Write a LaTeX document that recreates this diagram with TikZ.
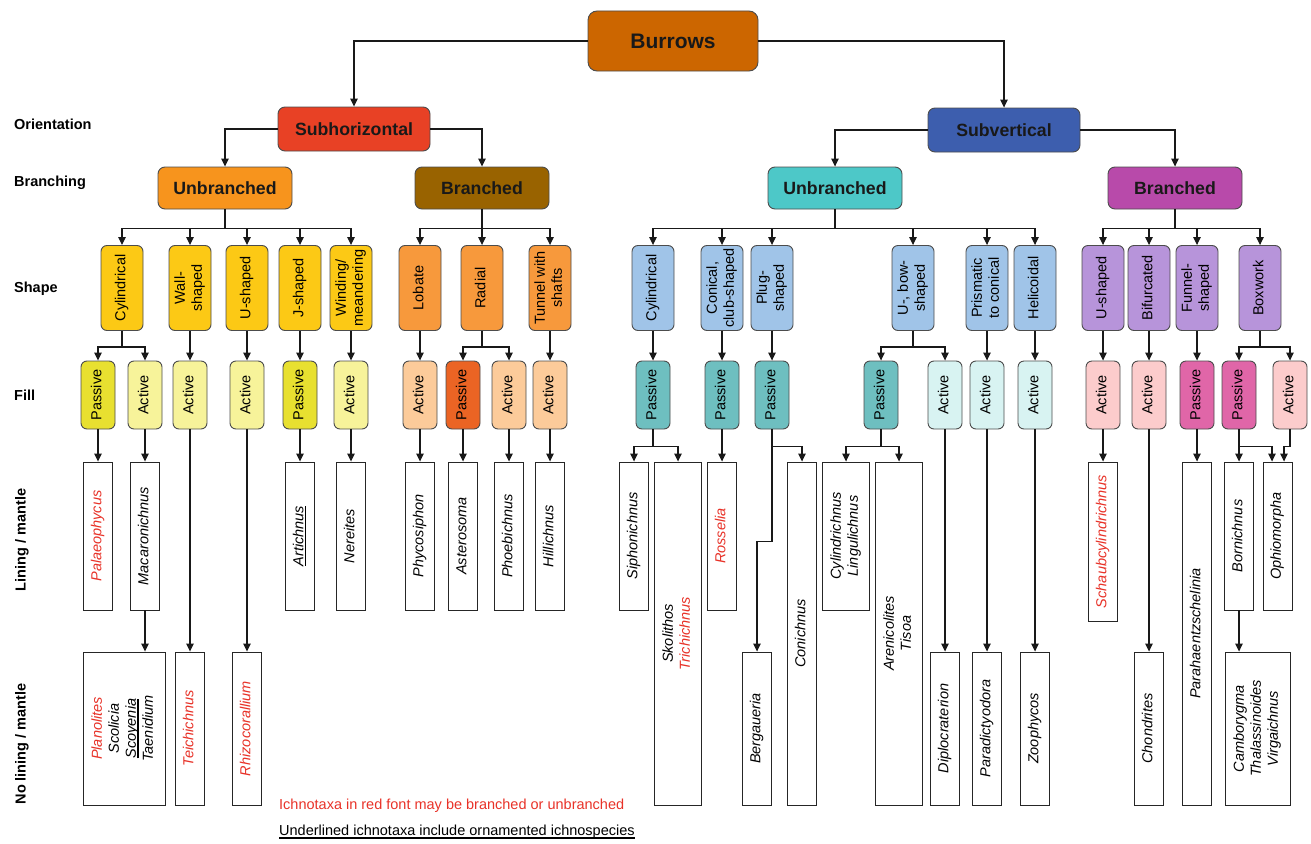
\documentclass[tikz,border=0pt]{standalone}
\usepackage{fontspec}
\setmainfont{Liberation Sans}
\usepackage{graphicx}
\usepackage{tikz}
\usetikzlibrary{arrows.meta}
\definecolor{burrowbr}{RGB}{204,102,0}
\definecolor{horizred}{RGB}{232,65,37}
\definecolor{vertblue}{RGB}{61,94,174}
\definecolor{hubr}{RGB}{247,148,29}
\definecolor{hbr}{RGB}{153,99,0}
\definecolor{vubr}{RGB}{77,200,200}
\definecolor{vbr}{RGB}{184,74,170}
\definecolor{hushape}{RGB}{252,201,21}
\definecolor{hbshape}{RGB}{247,153,60}
\definecolor{vushape}{RGB}{160,196,232}
\definecolor{vbshape}{RGB}{183,148,218}
\definecolor{hupas}{RGB}{232,224,48}
\definecolor{huact}{RGB}{247,243,154}
\definecolor{hbpas}{RGB}{235,100,36}
\definecolor{hbact}{RGB}{252,203,154}
\definecolor{vupas}{RGB}{110,191,192}
\definecolor{vuact}{RGB}{216,243,242}
\definecolor{vbpas}{RGB}{224,102,168}
\definecolor{vbact}{RGB}{252,204,204}
\definecolor{taxred}{RGB}{232,50,40}
\newcommand{\smallfnt}{\fontsize{14.5}{17}\selectfont}
\newcommand{\vtext}[1]{\rotatebox{90}{\begin{tabular}{@{}c@{}}#1\end{tabular}}}
\newcommand{\ulx}[1]{\setbox0\hbox{#1}\rlap{\rule[-2.8pt]{\wd0}{1.5pt}}\box0}

\begin{document}
\begin{tikzpicture}[x=1pt, y=-1pt,
  arr/.style={-{Triangle[length=8pt,width=7.5pt]}, line width=1.1pt, black!90},
  topbox/.style={draw=black!70, line width=0.9pt, rounded corners=9pt, minimum width=170pt,
                 minimum height=60pt, font=\fontsize{21}{24}\selectfont\bfseries, text=black!90},
  orbox/.style={draw=black!70, line width=0.9pt, rounded corners=7pt, minimum width=152pt,
                minimum height=44pt, font=\fontsize{17.7}{20}\selectfont\bfseries, text=black!90},
  brbox/.style={orbox, minimum width=134pt, minimum height=42pt},
  shapebox/.style={draw=black!70, line width=0.9pt, rounded corners=6pt, inner sep=0pt,
                   minimum width=42pt, minimum height=85pt, font=\smallfnt},
  fillbox/.style={shapebox, minimum width=34pt, minimum height=68pt},
  taxbox/.style={draw=black!85, line width=0.9pt, fill=white, inner sep=0pt,
                 minimum width=29pt, font=\smallfnt\itshape},
  rowlabel/.style={font=\smallfnt\bfseries, inner sep=0pt}]
  \useasboundingbox (0,0) rectangle (1311,843);

  % Row labels
  \node[rowlabel, anchor=west] (lorient) at (14,124) {Orientation};
  \node[rowlabel, anchor=west] (lbranch) at (14,183) {Branching};
  \node[rowlabel, anchor=west] (lshape) at (14,289) {Shape};
  \node[rowlabel, anchor=west] (lfill) at (14,395) {Fill};
  \node[rowlabel] (llining) at (22,540) {\rotatebox{90}{Lining / mantle}};
  \node[rowlabel] (lnolin) at (22,744) {\rotatebox{90}{No lining / mantle}};

  % Top levels
  \node[topbox, fill=burrowbr] (burrows) at (673,41) {Burrows};
  \node[orbox, fill=horizred] (shoriz) at (354,129) {Subhorizontal};
  \node[orbox, fill=vertblue] (svert) at (1004,130) {Subvertical};
  \node[brbox, fill=hubr] (ubH) at (225,188) {Unbranched};
  \node[brbox, fill=hbr] (brH) at (482,188) {Branched};
  \node[brbox, fill=vubr] (ubV) at (835,188) {Unbranched};
  \node[brbox, fill=vbr] (brV) at (1175,188) {Branched};
  \draw[arr] (burrows.west) -| (shoriz.north);
  \draw[arr] (burrows.east) -| (svert.north);
  \draw[arr] (shoriz.west) -| (ubH.north);
  \draw[arr] (shoriz.east) -| (brH.north);
  \draw[arr] (svert.west) -| (ubV.north);
  \draw[arr] (svert.east) -| (brV.north);

  % Shape
  \foreach \nm/\x/\col/\txt in {cylH/122/hushape/Cylindrical, wallH/190/hushape/{Wall-\\shaped},
      uH/247/hushape/U-shaped, jH/300/hushape/J-shaped, windH/351/hushape/{Winding/\\meandering},
      lobH/420/hbshape/Lobate, radH/482/hbshape/Radial, tunH/550/hbshape/{Tunnel with\\shafts},
      cylV/653/vushape/Cylindrical, conV/722/vushape/{Conical,\\club-shaped},
      plugV/772/vushape/{Plug-\\shaped}, ubowV/913/vushape/{U-, bow-\\shaped},
      prisV/987/vushape/{Prismatic\\to conical}, heliV/1035/vushape/Helicoidal,
      uV/1103/vbshape/U-shaped, bifV/1149/vbshape/Bifurcated, funV/1197/vbshape/{Funnel-\\shaped},
      boxV/1260/vbshape/Boxwork}
    \node[shapebox, fill=\col] (\nm) at (\x,288) {\vtext{\txt}};
  \foreach \p/\c in {ubH/cylH, ubH/wallH, ubH/uH, ubH/jH, ubH/windH, brH/lobH, brH/radH, brH/tunH,
      ubV/cylV, ubV/conV, ubV/plugV, ubV/ubowV, ubV/prisV, ubV/heliV,
      brV/uV, brV/bifV, brV/funV, brV/boxV}
    \draw[arr] (\p.south) -- ++(0,19) -| (\c.north);

  % Fill
  \foreach \nm/\x/\col/\txt in {fpH1/98/hupas/Passive, faH1/145/huact/Active, faH2/190/huact/Active,
      faH3/247/huact/Active, fpH4/300/hupas/Passive, faH5/351/huact/Active,
      faH6/420/hbact/Active, fpH7/463/hbpas/Passive, faH8/509/hbact/Active, faH9/550/hbact/Active,
      fpV1/653/vupas/Passive, fpV2/722/vupas/Passive, fpV3/772/vupas/Passive, fpV4/881/vupas/Passive,
      faV5/945/vuact/Active, faV6/987/vuact/Active, faV7/1035/vuact/Active,
      faV8/1103/vbact/Active, faV9/1149/vbact/Active, fpV10/1197/vbpas/Passive,
      fpV11/1239/vbpas/Passive, faV12/1290/vbact/Active}
    \node[fillbox, fill=\col] (\nm) at (\x,395) {\vtext{\txt}};
  \foreach \a/\b in {wallH/faH2, uH/faH3, jH/fpH4, windH/faH5, lobH/faH6, tunH/faH9, cylV/fpV1,
      conV/fpV2, plugV/fpV3, prisV/faV6, heliV/faV7, uV/faV8, bifV/faV9, funV/fpV10}
    \draw[arr] (\a.south) -- (\a.south |- \b.north);
  \foreach \a/\b in {cylH/fpH1, cylH/faH1, radH/fpH7, radH/faH8, ubowV/fpV4, ubowV/faV5,
      boxV/fpV11, boxV/faV12}
    \draw[arr] (\a.south) -- ++(0,16) -| (\b.north);

  % Lining / mantle
  \foreach \nm/\x/\txt in {palae/98/{\color{taxred}Palaeophycus}, macar/145/Macaronichnus,
      artic/300/{\ulx{Artichnus}}, nerei/351/Nereites, phyco/420/Phycosiphon, aster/463/Asterosoma,
      phoeb/509/Phoebichnus, hilli/550/Hillichnus, siph/634/Siphonichnus,
      rosse/722/{\color{taxred}Rosselia}, born/1239/Bornichnus, ophio/1277.5/Ophiomorpha}
    \node[taxbox, minimum height=148pt] (\nm) at (\x,536) {\vtext{\txt}};
  \node[taxbox, minimum width=47pt, minimum height=343pt] (skol) at (678,633.5)
    {\vtext{Skolithos\\{\color{taxred}Trichichnus}}};
  \node[taxbox, minimum height=343pt] (conich) at (802,633.5) {\vtext{Conichnus}};
  \node[taxbox, minimum width=47pt, minimum height=148pt] (cylin) at (846,536)
    {\vtext{Cylindrichnus\\Lingulichnus}};
  \node[taxbox, minimum width=47pt, minimum height=343pt] (arenic) at (899,633.5)
    {\vtext{Arenicolites\\Tisoa}};
  \node[taxbox, minimum height=159pt] (schau) at (1103,541.5)
    {\vtext{{\color{taxred}Schaubcylindrichnus}}};
  \node[taxbox, minimum height=343pt] (parah) at (1197,633.5) {\vtext{Parahaentzschelinia}};

  % No lining / mantle
  \foreach \nm/\x/\txt in {teich/190/{\color{taxred}Teichichnus}, rhizo/247/{\color{taxred}Rhizocorallium},
      berg/757/Bergaueria, diplo/945/Diplocraterion, parad/987/Paradictyodora,
      zooph/1035/Zoophycos, chond/1149/Chondrites}
    \node[taxbox, minimum height=153pt] (\nm) at (\x,728.5) {\vtext{\txt}};
  \node[taxbox, minimum width=82pt, minimum height=153pt] (plano) at (124,728.5)
    {\vtext{{\color{taxred}Planolites}\\Scolicia\\\ulx{Scoyenia}\\Taenidium}};
  \node[taxbox, minimum width=65pt, minimum height=153pt] (camb) at (1257.5,728.5)
    {\vtext{Camborygma\\Thalassinoides\\Virgaichnus}};

  % Fill to ichnotaxa
  \foreach \a/\b in {fpH1/palae, faH1/macar, faH2/teich, faH3/rhizo, fpH4/artic, faH5/nerei,
      faH6/phyco, fpH7/aster, faH8/phoeb, faH9/hilli, fpV2/rosse, faV5/diplo, faV6/parad,
      faV7/zooph, faV8/schau, faV9/chond, fpV10/parah, macar/plano, born/camb}
    \draw[arr] (\a.south) -- (\a.south |- \b.north);
  \foreach \a/\b in {fpV1/siph, fpV1/skol, fpV3/conich, fpV4/cylin, fpV4/arenic, fpV11/born}
    \draw[arr] (\a.south) -- ++(0,17) -| (\b.north);
  \draw[arr] (fpV11.south) -- ++(0,17) -| ([xshift=-5.5pt]ophio.north);
  \draw[arr] (faV12.south) -- ++(0,17) -| ([xshift=6.5pt]ophio.north);
  \draw[arr] (fpV3.south) -- ++(0,112) -| (berg.north);

  % Notes
  \node[anchor=west, inner sep=0pt, font=\smallfnt, text=taxred] (note1) at (279,806)
    {Ichnotaxa in red font may be branched or unbranched};
  \node[anchor=west, inner sep=0pt, font=\smallfnt] (note2) at (279,832)
    {\ulx{Underlined ichnotaxa include ornamented ichnospecies}};
\end{tikzpicture}
\end{document}
